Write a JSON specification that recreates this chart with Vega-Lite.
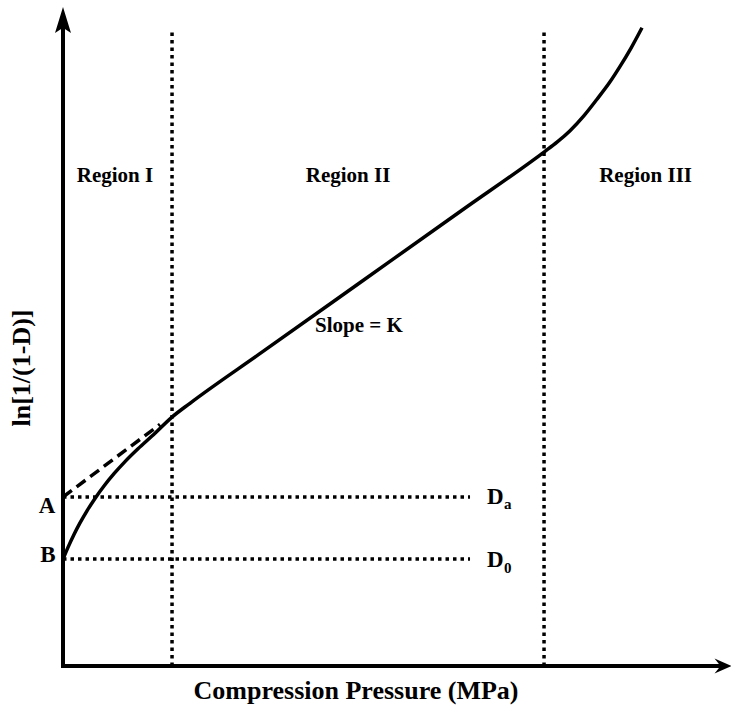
{
  "$schema": "https://vega.github.io/schema/vega-lite/v6.json",
  "width": 668,
  "height": 659,
  "autosize": "none",
  "padding": {"left": 63, "top": 7, "right": 0, "bottom": 46},
  "background": "white",
  "config": {"view": {"stroke": null}},
  "datasets": {
    "curve": [
      {"x": 0, "y": 16.27}, {"x": 0.755, "y": 18.08}, {"x": 1.662, "y": 20.05}, {"x": 2.568, "y": 21.81},
      {"x": 3.625, "y": 23.66}, {"x": 4.834, "y": 25.55}, {"x": 6.193, "y": 27.44}, {"x": 7.704, "y": 29.31},
      {"x": 9.366, "y": 31.16}, {"x": 11.33, "y": 33.11}, {"x": 13.44, "y": 35.05}, {"x": 16.47, "y": 37.95},
      {"x": 19.18, "y": 40.05}, {"x": 30, "y": 47.8}, {"x": 45, "y": 58.54}, {"x": 60, "y": 69.28},
      {"x": 72.66, "y": 78.35}, {"x": 74.62, "y": 79.85}, {"x": 76.59, "y": 81.6}, {"x": 78.7, "y": 83.9},
      {"x": 80.66, "y": 86.4}, {"x": 82.63, "y": 89.05}, {"x": 84.14, "y": 91.4}, {"x": 85.8, "y": 94.2},
      {"x": 87.46, "y": 97.3}
    ],
    "dashed": [{"x": 0, "y": 25.76}, {"x": 14.65, "y": 36.83}],
    "dotted": [
      {"seg": "v1", "x": 16.47, "y": 0}, {"seg": "v1", "x": 16.47, "y": 96.95},
      {"seg": "v2", "x": 72.66, "y": 0}, {"seg": "v2", "x": 72.66, "y": 96.95},
      {"seg": "hA", "x": 0, "y": 25.76}, {"seg": "hA", "x": 61.48, "y": 25.76},
      {"seg": "hB", "x": 0, "y": 16.31}, {"seg": "hB", "x": 61.48, "y": 16.31}
    ],
    "axes": [
      {"x": 0, "y": 0, "x2": 99.3, "y2": 0},
      {"x": 0, "y": 0, "x2": 0, "y2": 97.6}
    ],
    "xarrow": [{"x": 99.7, "y": 0}],
    "yarrow": [{"x": 0, "y": 98.48}],
    "regions": [
      {"x": 7.85, "y": 73.78, "label": "Region I"},
      {"x": 43.05, "y": 73.78, "label": "Region II"},
      {"x": 88.0, "y": 73.78, "label": "Region III"},
      {"x": 44.7, "y": 50.9, "label": "Slope = K"}
    ],
    "ab": [
      {"x": -2.42, "y": 23.32, "label": "A"},
      {"x": -2.27, "y": 15.85, "label": "B"}
    ],
    "dlabels": [
      {"x": 64.05, "y": 24.7, "label": "D"},
      {"x": 64.05, "y": 15.1, "label": "D"}
    ],
    "subs": [
      {"x": 66.6, "y": 23.9, "label": "a"},
      {"x": 66.6, "y": 14.2, "label": "0"}
    ],
    "ytitle": [{"x": -6.19, "y": 45.43, "label": "ln[1/(1-D)]"}],
    "xtitle": [{"x": 44.26, "y": -5.03, "label": "Compression Pressure (MPa)"}]
  },
  "encoding": {
    "x": {"field": "x", "type": "quantitative", "scale": {"domain": [0, 100.9], "nice": false, "zero": false}, "axis": null},
    "y": {"field": "y", "type": "quantitative", "scale": {"domain": [0, 100.46], "nice": false, "zero": false}, "axis": null}
  },
  "layer": [
    {
      "data": {"name": "dotted"},
      "mark": {"type": "line", "color": "black", "strokeWidth": 3.5, "strokeDash": [3.5, 4], "clip": false},
      "encoding": {"detail": {"field": "seg"}}
    },
    {
      "data": {"name": "dashed"},
      "mark": {"type": "line", "color": "black", "strokeWidth": 3.5, "strokeDash": [11, 6], "clip": false},
      "encoding": {}
    },
    {
      "data": {"name": "curve"},
      "mark": {"type": "line", "color": "black", "strokeWidth": 3.5, "interpolate": "monotone", "clip": false},
      "encoding": {}
    },
    {
      "data": {"name": "axes"},
      "mark": {"type": "rule", "color": "black", "strokeWidth": 4, "strokeCap": "square", "clip": false},
      "encoding": {"x2": {"field": "x2"}, "y2": {"field": "y2"}}
    },
    {
      "data": {"name": "xarrow"},
      "mark": {"type": "point", "shape": "M1,0L-1,-0.88L-0.3,0L-1,0.88Z", "size": 289, "filled": true, "color": "black", "opacity": 1, "clip": false},
      "encoding": {}
    },
    {
      "data": {"name": "yarrow"},
      "mark": {"type": "point", "shape": "M0,-1L0.615,1L0,0.6L-0.615,1Z", "size": 676, "filled": true, "color": "black", "opacity": 1, "clip": false},
      "encoding": {}
    },
    {
      "data": {"name": "regions"},
      "mark": {"type": "text", "font": "'Liberation Serif', 'Times New Roman', serif", "fontWeight": "bold", "color": "black", "fontSize": 21, "align": "center", "baseline": "alphabetic"},
      "encoding": {"text": {"field": "label"}}
    },
    {
      "data": {"name": "ab"},
      "mark": {"type": "text", "font": "'Liberation Serif', 'Times New Roman', serif", "fontWeight": "bold", "color": "black", "fontSize": 23, "align": "center", "baseline": "alphabetic"},
      "encoding": {"text": {"field": "label"}}
    },
    {
      "data": {"name": "dlabels"},
      "mark": {"type": "text", "font": "'Liberation Serif', 'Times New Roman', serif", "fontWeight": "bold", "color": "black", "fontSize": 23, "align": "left", "baseline": "alphabetic"},
      "encoding": {"text": {"field": "label"}}
    },
    {
      "data": {"name": "subs"},
      "mark": {"type": "text", "font": "'Liberation Serif', 'Times New Roman', serif", "fontWeight": "bold", "color": "black", "fontSize": 15, "align": "left", "baseline": "alphabetic"},
      "encoding": {"text": {"field": "label"}}
    },
    {
      "data": {"name": "ytitle"},
      "mark": {"type": "text", "font": "'Liberation Serif', 'Times New Roman', serif", "fontWeight": "bold", "color": "black", "fontSize": 26, "align": "center", "baseline": "middle", "angle": 270},
      "encoding": {"text": {"field": "label"}}
    },
    {
      "data": {"name": "xtitle"},
      "mark": {"type": "text", "font": "'Liberation Serif', 'Times New Roman', serif", "fontWeight": "bold", "color": "black", "fontSize": 26, "align": "center", "baseline": "alphabetic"},
      "encoding": {"text": {"field": "label"}}
    }
  ]
}
